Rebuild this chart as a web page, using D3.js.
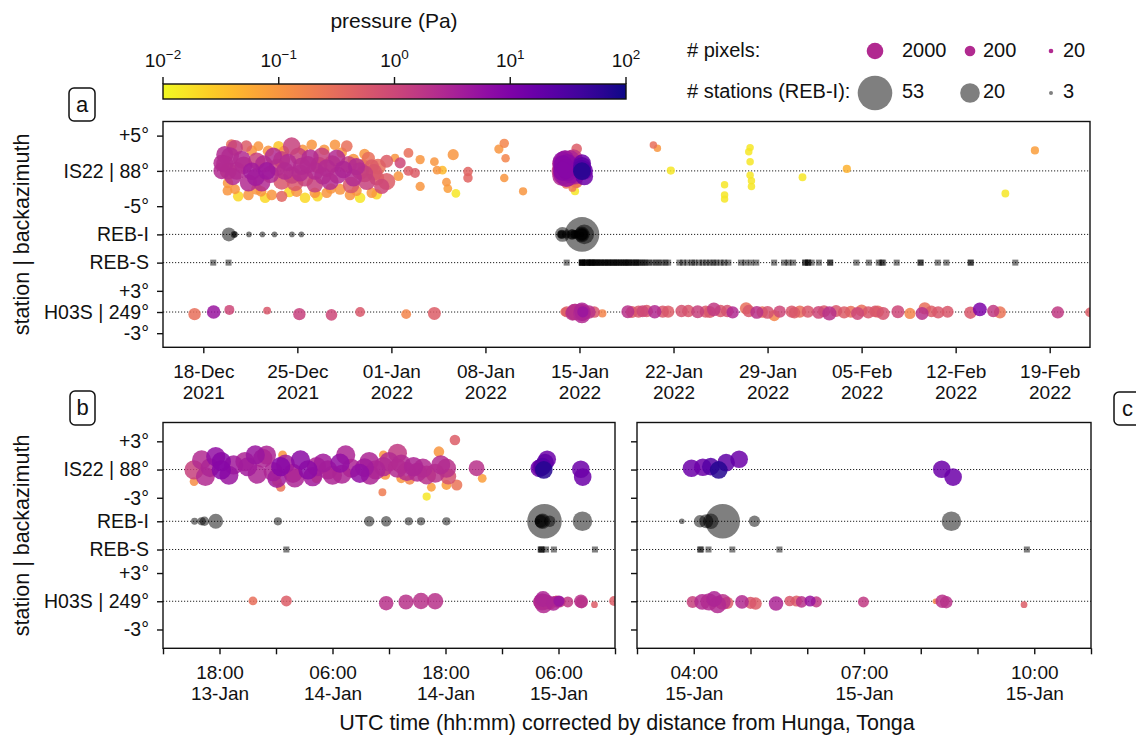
<!DOCTYPE html>
<html><head><meta charset="utf-8">
<script src="https://cdn.jsdelivr.net/npm/d3@7"></script>
<style>
body{margin:0;background:#fff;}
svg text{font-family:"Liberation Sans", Arial, Helvetica, sans-serif; fill:#111;}
</style></head><body>
<svg id="chart" width="1136" height="742" style="background:#fff"></svg>
<script>
// ---------------- DATA ----------------
// colorbar ticks (Pa) and legend values
const cbTicks = [0.01, 0.1, 1, 10, 100];
const cbExps = ["−2", "−1", "0", "1", "2"];
const pixelLegend = [2000, 200, 20];
const stationLegend = [53, 20, 3];
const legendPa = 2.5;

// panel a weekly ticks
const weekTicks = ["2021-12-18","2021-12-25","2022-01-01","2022-01-08","2022-01-15","2022-01-22","2022-01-29","2022-02-05","2022-02-12","2022-02-19"];
// panel b/c ticks: hours since 2022-01-13 00:00 UTC
const ticksB = [12,18,24,30,36,42,48,54,60];
const labelsB = [18,30,42,54];
const ticksC = [51,52,53,54,55,56,57,58,59];
const labelsC = [52,55,58];

// IS22 detections, long-term: [days since 2021-12-15, backazimuth offset (deg), pressure (Pa), pixels]
const is22Days = [
[4.6,2.3,2.5,2500],[5.0,2.1,2.5,3000],[5.36,3.26,1.2,1500],[5.86,1.6,2.5,3000],[5.49,0.0,2.5,3000],
[6.6,-0.05,4,3000],[6.36,-1.7,2.5,2500],[7.72,0.0,4.5,3000],[7.35,-1.7,2.5,2500],[6.98,1.4,1.2,2500],
[8.22,2.1,2.5,2500],[8.84,1.6,1.2,2500],[9.58,3.5,1.2,3000],[9.08,0.0,2.5,3000],[8.84,-1.5,0.6,2000],
[10.33,0.66,2.5,3000],[10.95,1.84,2.5,2500],[10.08,2.1,1.2,2500],[11.32,0.0,2.5,3000],[10.57,-1.0,1.2,2500],
[11.82,2.1,1.2,2500],[9.83,-1.7,0.6,2000],[11.3,-1.9,1.2,2000],[4.37,0.0,2.5,2000],[4.86,0.0,1.2,2500],
[4.37,1.1,2.5,2000],[4.6,1.0,2.5,2500],[5.2,-0.8,2.5,2500],[6.0,0.8,2.5,3000],[6.9,-0.9,4,3000],
[7.5,1.0,2.5,2500],[8.0,-0.5,2.5,2500],[8.5,0.5,1.2,2500],[9.3,1.2,2.5,2500],[9.6,-0.6,1.2,2500],
[10.2,-0.3,2.5,2500],[10.8,0.9,2.5,2500],[11.6,0.8,1.2,2500],[11.9,-0.7,2.5,2500],[12.6,1.0,1.2,2500],
[13.0,-0.6,2.5,2500],[13.8,0.9,1.2,2500],[14.4,0.6,2.5,2500],[14.0,-2.0,0.6,2000],[15.0,-0.4,1.2,2500],
[15.7,-0.2,0.6,2000],[16.0,0.6,0.3,1500],[12.19,0.4,2.5,3000],[12.93,1.8,2.5,2500],[13.43,0.2,3,3000],
[14.17,-1.0,2.5,2500],[15.17,-1.5,1.2,2500],[14.67,0.0,1.2,2500],[12.43,-1.5,2.5,2500],
[13.68,3.5,0.3,300],[12.8,3.7,0.1,200],[14.17,1.6,0.1,300],[14.9,0.9,0.1,300],[15.29,1.8,0.3,500],
[15.54,0.66,0.5,800],[15.9,-1.0,0.5,1200],[16.65,-1.5,0.5,2500],[16.28,-2.2,1.0,1200],[14.67,-3.8,0.015,200],
[13.92,-3.4,0.1,200],[13.18,-2.6,0.1,250],[12.19,-3.1,0.1,200],[15.54,-3.1,0.1,200],
[5.36,-2.6,0.1,150],[5.6,-3.6,0.02,200],[4.84,-1.7,0.1,200],[6.36,-3.4,0.1,200],[6.98,-2.6,0.1,250],
[7.6,-3.8,0.02,200],[8.09,-3.4,0.1,200],[8.84,-3.6,0.4,250],[9.95,-2.9,0.1,250],[10.57,-3.8,0.02,200],
[11.3,-3.1,0.1,200],[7.1,3.5,0.1,150],[8.6,3.5,0.03,200],[7.84,2.8,0.1,250],[11.07,3.7,0.1,200],
[5.1,3.7,0.3,250],[6.2,3.5,0.5,300],[4.8,-2.8,0.1,150],[6.6,2.9,0.1,200],[7.3,-2.9,0.1,200],
[9.0,2.8,0.1,200],[9.4,-3.0,0.02,200],[10.4,3.0,0.1,200],[11.5,-3.6,0.02,200],[12.0,3.0,0.1,200],
[12.5,-2.5,0.1,200],[13.3,2.6,0.1,200],[14.4,-2.8,0.1,200],[15.0,2.4,0.1,200],[15.9,-3.3,0.02,200],
[16.65,1.37,0.5,500],[17.65,1.13,1.0,250],[18.27,2.55,0.3,150],[18.27,0.0,0.5,150],[18.76,-0.3,0.5,150],
[19.14,1.6,0.1,120],[17.52,-0.75,0.1,150],[19.14,-2.2,0.1,120],[17.27,1.84,0.1,80],[20.2,1.3,0.1,100],
[20.4,0.1,0.1,100],[20.8,0.1,0.04,100],[21.6,2.3,0.1,250],[21.1,-1.6,0.1,100],[21.2,-2.5,0.08,100],
[21.8,-3.2,0.015,100],[22.7,-0.1,0.4,130],[22.7,-1.0,0.4,130],[25.0,3.1,0.1,120],[25.4,3.9,0.15,130],
[25.5,1.8,0.15,90],[25.4,-1.0,0.1,90],[26.8,-2.9,0.1,80],
[36.5,3.66,0.3,60],[36.8,3.2,0.1,60],[37.8,0.05,0.015,80],[41.8,-1.97,0.015,60],[41.8,-3.4,0.015,60],
[41.8,-4.0,0.015,60],[43.7,3.3,0.015,60],[43.6,2.7,0.015,60],[43.7,1.3,0.015,60],[43.7,-0.6,0.015,60],
[43.8,-1.4,0.015,60],[43.8,-2.2,0.015,60],[47.6,-0.9,0.015,70],[50.9,0.28,0.05,80],[62.7,-3.2,0.015,70],
[64.9,2.9,0.08,80]
];

// IS22 detections around the eruption: [hours since 2022-01-13 00:00 UTC, deg, Pa, pixels]
const is22Event = [
[15.3,-0.04,1.2,5500],[16.1,1.02,2.5,5500],[16.5,-0.75,2.5,5000],[17.6,1.37,6,5500],[18.2,0.84,8,5500],
[18.2,-0.04,8,5500],[19.5,0.49,4,5500],[20.7,0.84,3,5500],[21.8,1.55,5,5500],[22.6,1.2,3,5500],
[23.0,1.55,3,5000],[23.7,-0.22,3,5500],[24.5,0.31,8,5500],[24.1,-0.93,4,5500],[25.8,-0.4,3,5500],
[26.6,1.02,7,5500],[27.4,-0.04,7,5500],[27.9,-0.75,4,5500],[28.3,0.31,3,5500],[29.5,-0.04,3,5500],
[30.8,0.67,6,5500],[31.4,1.55,3,5500],[32.0,0.14,3,5000],[32.9,-0.4,6,5500],[33.9,0.84,3,5500],
[34.6,-0.04,3,5500],[35.4,0.31,2.5,5500],[36.0,0.84,2.5,5500],[36.9,1.73,1.5,5000],[36.9,0.14,2.5,5500],
[37.9,-0.22,2.5,5000],[38.6,0.31,3,5500],[39.6,0.14,2.5,5500],[40.0,-0.57,2,5000],[40.9,-0.4,2,5000],
[42.1,0.14,2,5500],[42.3,-0.75,0.7,1500],
[17.0,0.2,3,5000],[19.0,-0.6,5,5000],[21.0,0.3,4,5000],[22.0,-0.5,3,5000],[25.0,0.6,4,5000],
[26.0,-0.9,3,5000],[29.0,0.7,4,5000],[30.0,-0.6,3,5000],[31.0,-0.5,3,5000],[33.4,0.2,4,5000],
[34.0,-0.6,3,5000],[37.3,0.6,2.5,5000],[39.0,-0.3,2.5,5000],[41.5,0.5,2.5,5000],
[15.3,-1.28,0.12,100],[24.7,1.55,0.1,100],[24.1,-1.28,0.12,150],[24.5,-1.88,0.25,120],[28.3,-0.93,0.15,150],
[35.4,1.55,0.1,100],[35.6,-0.57,0.1,150],[37.3,-0.93,0.1,150],[38.2,-1.1,0.15,150],[41.3,1.9,0.1,200],
[43.0,3.14,0.5,200],[45.9,-0.93,0.08,100],[45.3,0.14,2,1500],[40.5,-1.88,0.08,100],[40.0,-2.87,0.015,80],
[35.3,-2.41,0.2,70],[42.1,-1.64,0.08,150],[43.2,-1.64,0.25,250],
[51.96,0.14,15,3000],[52.16,0.24,15,3000],[52.30,0.31,25,3000],[52.44,-0.04,70,3000],[52.57,0.73,20,3000],
[52.80,1.09,15,3000],[56.37,0.03,15,3000],[56.57,-0.8,15,3000]
];

// H03S detections, long-term: [days since 2021-12-15, deg, Pa, pixels]
const h03sDays = [
[2.35,-0.3,0.3,400],[3.77,0.0,5,650],[4.94,0.3,1.0,160],[7.75,0.2,0.6,70],[10.15,-0.3,1.2,400],
[12.54,-0.4,1.0,300],[14.67,0.0,0.6,150],[18.1,-0.3,0.15,150],[20.2,-0.2,0.5,500],
[31.7,0.0,2,600],[32.1,0.0,0.6,300],[32.7,-0.2,0.15,80],
[34.6,0.05,2,500],[34.9,0.0,0.5,350],[35.4,0.05,0.6,400],[35.7,0.1,1.0,350],[36.0,0.14,0.6,400],
[36.6,0.05,2.5,600],[37.2,0.05,0.6,400],[37.6,0.05,0.5,400],[38.6,0.14,0.7,400],[39.1,0.14,0.6,400],
[39.8,0.05,1.2,500],[40.4,0.05,0.6,400],[40.7,0.0,0.6,350],[41.0,0.38,1.5,650],[41.5,0.14,0.6,400],
[42.0,0.14,0.7,400],[42.4,-0.05,2.5,400],[43.4,0.52,0.3,400],[43.6,0.14,0.6,400],[44.2,-0.05,2,500],
[44.6,0.0,0.3,300],[45.0,-0.05,0.7,500],[45.5,-0.5,0.15,250],[45.9,0.05,1.0,400],[46.8,0.05,0.6,400],
[47.0,-0.1,0.5,300],[47.4,0.05,0.3,400],[48.0,0.05,0.6,400],[48.8,-0.05,1.0,500],[49.2,0.1,0.6,350],
[49.6,-0.2,2,800],[50.1,0.14,0.6,350],[50.7,-0.05,0.5,400],[51.2,0.05,0.3,350],[51.7,-0.2,1.0,500],
[52.0,0.2,0.3,350],[52.5,-0.05,0.6,400],[53.0,0.1,0.6,300],[53.2,0.05,0.35,400],[53.6,-0.2,0.7,500],
[54.7,0.05,1.0,500],[55.6,-0.2,0.15,250],[56.5,-0.2,2,500],[56.7,0.52,0.3,400],[57.2,0.1,0.5,300],
[57.7,-0.05,0.6,400],[58.4,0.05,0.6,350],[60.1,-0.1,0.6,400],[60.8,0.38,10,700],[61.8,0.14,1.5,400],
[62.3,-0.05,0.25,350],[66.6,-0.05,1.5,400],[69.0,-0.05,0.5,150]
];

// H03S detections around the eruption: [hours since 2022-01-13 00:00 UTC, deg, Pa, pixels]
const h03sEvent = [
[21.55,0.03,0.3,100],[25.1,0.03,0.5,230],[35.7,-0.2,2,900],[37.8,-0.07,2,1100],[39.4,0.03,2,1800],
[40.9,0.0,2,1800],[51.98,-0.07,1.2,350],[52.15,-0.07,2.5,1500],[52.27,-0.07,2.5,2500],[52.36,0.24,3,1500],
[52.42,-0.36,2.5,2500],[52.51,-0.07,2,1500],[52.59,-0.17,0.5,400],[52.85,-0.07,2.5,650],[53.0,-0.17,0.6,350],
[53.09,-0.24,0.5,400],[53.45,-0.24,3,900],[53.69,0.03,0.6,200],[53.81,0.03,0.5,250],[53.9,-0.07,2,300],
[54.05,0.03,5,250],[54.16,-0.07,1.5,250],[54.99,-0.07,1.5,230],[56.26,0.0,0.15,30],[56.38,0.0,2,650],
[56.45,-0.1,2,400],[57.82,-0.36,0.5,45],[59.9,0.03,0.5,150]
];

// REB-I events: [time, number of stations]
const rebIDays = [[4.9,12],[5.3,5],[5.35,4],[6.4,4],[7.4,4],[8.3,4],[9.6,4],[10.3,4]];
const rebIEvent = [[15.35,5],[16.1,6],[16.4,7],[17.6,13],[24.2,6],[33.9,8],[35.7,8],[38.1,6],[39.4,6],[42.1,6],
[51.79,4],[52.11,10],[52.22,12],[52.30,14],[52.51,53],[53.07,9],[56.54,20]];

// REB-S events: times
const rebSDays = [3.74,4.88,31.55,31.6,31.65,31.75,31.85,31.9,31.95,32.05,32.15,32.2,32.3,32.4,32.5,32.6,32.65,32.8,32.9,33.0,33.1,33.15,33.3,33.4,33.5,33.55,33.7,33.8,33.9,33.95,34.1,34.25,34.3,34.4,34.5,34.65,34.7,34.8,34.95,35.1,35.2,35.25,35.4,35.55,35.7,35.85,36.0,36.2,36.45,36.7,36.9,37.15,37.4,37.6,38.44,38.71,39.03,39.37,39.56,39.9,40.17,40.44,40.7,40.97,41.18,41.5,41.77,42.08,43.02,43.36,43.76,44.16,45.49,46.23,46.55,46.9,47.8,47.8,48.02,48.02,48.28,48.82,49.66,49.66,51.61,52.54,53.28,53.5,53.6,54.61,56.39,56.39,57.67,58.31,60.12,60.12,63.44];
const rebSEvent = [25.1,52.11,52.13,52.26,52.68,53.51,57.87];

// ---------------- CHART ----------------
const svg = d3.select("#chart");
const dayBase = Date.UTC(2021,11,15);
const evtBase = Date.UTC(2022,0,13);
const fromDay = t => new Date(dayBase + t*864e5);
const fromHour = h => new Date(evtBase + h*36e5);

const color = d3.scaleSequentialLog(t => d3.interpolatePlasma(1 - t)).domain([0.01, 100]);
const rPix = d3.scaleLog().domain([20, 2000]).range([2.3, 8.3]);
const rSta = d3.scalePow().exponent(0.45).domain([3, 53]).range([2, 17.3]);

const INK = "#111";
const evtData = {
  is22: is22Event.map(d => ({t: fromHour(d[0]), deg: d[1], pa: d[2], px: d[3]})),
  h03s: h03sEvent.map(d => ({t: fromHour(d[0]), deg: d[1], pa: d[2], px: d[3]})),
  rebI: rebIEvent.map(d => ({t: fromHour(d[0]), n: d[1]})),
  rebS: rebSEvent.map(fromHour)
};
const allData = {
  is22: is22Days.map(d => ({t: fromDay(d[0]), deg: d[1], pa: d[2], px: d[3]})).concat(evtData.is22),
  h03s: h03sDays.map(d => ({t: fromDay(d[0]), deg: d[1], pa: d[2], px: d[3]})).concat(evtData.h03s),
  rebI: rebIDays.map(d => ({t: fromDay(d[0]), n: d[1]})).concat(evtData.rebI),
  rebS: rebSDays.map(fromDay).concat(evtData.rebS)
};

const panels = [
  {id: "a", x0: 163, x1: 1090, y0: 121.5, y1: 347.3,
   dom: [new Date(Date.UTC(2021,11,15)), new Date(Date.UTC(2022,1,22))], yDom: [7, -25],
   rows: {IS22: 0, REBI: -9, REBS: -13, H03S: -20},
   yTicks: [[5,"+5°"],[0,"IS22 | 88°"],[-5,"-5°"],[-9,"REB-I"],[-13,"REB-S"],[-17,"+3°"],[-20,"H03S | 249°"],[-23,"-3°"]],
   xTicks: weekTicks.map(s => new Date(s + "T00:00:00Z")),
   xLabel: d => d3.utcFormat("%d-%b")(d) + "|" + d3.utcFormat("%Y")(d),
   data: allData, yLabels: true, evtScale: 1},
  {id: "b", x0: 163, x1: 615, y0: 422.5, y1: 648.3,
   dom: [fromHour(12), fromHour(60)], yDom: [5, -19],
   rows: {IS22: 0, REBI: -5.5, REBS: -8.5, H03S: -14},
   yTicks: [[3,"+3°"],[0,"IS22 | 88°"],[-3,"-3°"],[-5.5,"REB-I"],[-8.5,"REB-S"],[-11,"+3°"],[-14,"H03S | 249°"],[-17,"-3°"]],
   xTicks: ticksB.map(fromHour),
   xLabel: d => labelsB.some(h => +fromHour(h) === +d) ? d3.utcFormat("%H:%M")(d) + "|" + d3.utcFormat("%d-%b")(d) : "",
   data: evtData, yLabels: true},
  {id: "c", x0: 637, x1: 1091, y0: 422.5, y1: 648.3,
   dom: [fromHour(51), fromHour(59)], yDom: [5, -19],
   rows: {IS22: 0, REBI: -5.5, REBS: -8.5, H03S: -14},
   yTicks: [[3,"+3°"],[0,"IS22 | 88°"],[-3,"-3°"],[-5.5,"REB-I"],[-8.5,"REB-S"],[-11,"+3°"],[-14,"H03S | 249°"],[-17,"-3°"]],
   xTicks: ticksC.map(fromHour),
   xLabel: d => labelsC.some(h => +fromHour(h) === +d) ? d3.utcFormat("%H:%M")(d) + "|" + d3.utcFormat("%d-%b")(d) : "",
   data: evtData, yLabels: false}
];

panels.forEach(p => {
  const x = d3.scaleUtc().domain(p.dom).range([p.x0, p.x1]);
  const y = d3.scaleLinear().domain(p.yDom).range([p.y0, p.y1]);
  const g = svg.append("g");
  const clipId = "clip-" + p.id;
  svg.append("clipPath").attr("id", clipId).append("rect")
    .attr("x", p.x0).attr("y", p.y0).attr("width", p.x1 - p.x0).attr("height", p.y1 - p.y0);

  // dotted row lines
  g.append("g").selectAll("line").data([p.rows.IS22, p.rows.REBI, p.rows.REBS, p.rows.H03S]).join("line")
    .attr("x1", p.x0).attr("x2", p.x1).attr("y1", d => y(d)).attr("y2", d => y(d))
    .attr("stroke", "#222").attr("stroke-width", 1).attr("stroke-dasharray", "1.2,1.8");

  const m = g.append("g").attr("clip-path", `url(#${clipId})`);
  // REB-S squares
  m.append("g").selectAll("rect").data(p.data.rebS).join("rect")
    .attr("x", d => x(d) - 3).attr("y", y(p.rows.REBS) - 3).attr("width", 6).attr("height", 6)
    .attr("fill", "#000").attr("fill-opacity", 0.5);
  // REB-I circles
  m.append("g").selectAll("circle").data(p.data.rebI).join("circle")
    .attr("cx", d => x(d.t)).attr("cy", y(p.rows.REBI)).attr("r", d => rSta(d.n))
    .attr("fill", "#000").attr("fill-opacity", 0.5);
  // pixel detections
  const pts = p.data.is22.map(d => ({t: d.t, v: p.rows.IS22 + d.deg, pa: d.pa, px: d.px}))
    .concat(p.data.h03s.map(d => ({t: d.t, v: p.rows.H03S + d.deg, pa: d.pa, px: d.px})))
    .sort((a, b) => a.pa - b.pa);
  m.append("g").selectAll("circle").data(pts).join("circle")
    .attr("cx", d => x(d.t)).attr("cy", d => y(d.v)).attr("r", d => rPix(d.px))
    .attr("fill", d => color(d.pa)).attr("fill-opacity", 0.85);

  // frame
  g.append("rect").attr("x", p.x0).attr("y", p.y0).attr("width", p.x1 - p.x0).attr("height", p.y1 - p.y0)
    .attr("fill", "none").attr("stroke", INK).attr("stroke-width", 1.4);

  // y axis
  const ya = d3.axisLeft(y).tickValues(p.yTicks.map(d => d[0])).tickSize(6).tickPadding(8)
    .tickFormat(v => p.yLabels ? p.yTicks.find(d => d[0] === v)[1] : "");
  const yg = g.append("g").attr("transform", `translate(${p.x0},0)`).call(ya);
  yg.select(".domain").remove();
  yg.selectAll(".tick line").attr("stroke", INK).attr("stroke-width", 1.4);
  yg.selectAll(".tick text").attr("font-size", 19.5).attr("font-family", null).attr("fill", INK);

  // x axis
  const xa = d3.axisBottom(x).tickValues(p.xTicks).tickSize(6).tickPadding(11).tickFormat(p.xLabel);
  const xg = g.append("g").attr("transform", `translate(0,${p.y1})`).call(xa);
  xg.select(".domain").remove();
  xg.selectAll(".tick line").attr("stroke", INK).attr("stroke-width", 1.4);
  xg.selectAll(".tick text").attr("font-size", 19).attr("font-family", null).attr("fill", INK)
    .each(function() {
      const s = d3.select(this).text();
      const t = d3.select(this).text(null);
      if (!s) return;
      const parts = s.split("|");
      t.append("tspan").attr("x", 0).text(parts[0]);
      t.append("tspan").attr("x", 0).attr("dy", "1.1em").text(parts[1]);
    });
});

// panel letters
[["a", 69, 88, 26, 33], ["b", 70, 391, 25, 34], ["c", 1114, 392, 27, 33]].forEach(([l, bx, by, bw, bh]) => {
  svg.append("rect").attr("x", bx).attr("y", by).attr("width", bw).attr("height", bh).attr("rx", 5)
    .attr("fill", "#fff").attr("stroke", INK).attr("stroke-width", 1.5);
  svg.append("text").attr("x", bx + bw / 2).attr("y", by + bh / 2 + 7).attr("text-anchor", "middle")
    .attr("font-size", 22).text(l);
});

// axis titles
[[234.4], [535.4]].forEach(([cy]) => {
  svg.append("text").attr("transform", `translate(29,${cy}) rotate(-90)`).attr("text-anchor", "middle")
    .attr("font-size", 21.5).text("station | backazimuth");
});
svg.append("text").attr("x", 627).attr("y", 730).attr("text-anchor", "middle").attr("font-size", 21.5)
  .text("UTC time (hh:mm) corrected by distance from Hunga, Tonga");

// colorbar
const cbx = d3.scaleLog().domain([0.01, 100]).range([163, 626]);
const defs = svg.append("defs");
const grad = defs.append("linearGradient").attr("id", "cbgrad").attr("x1", "0%").attr("x2", "100%");
d3.range(0, 1.0001, 0.05).forEach(f => {
  grad.append("stop").attr("offset", (f * 100) + "%").attr("stop-color", d3.interpolatePlasma(1 - f));
});
svg.append("rect").attr("x", 163).attr("y", 84).attr("width", 463).attr("height", 15)
  .attr("fill", "url(#cbgrad)").attr("stroke", INK).attr("stroke-width", 1.4);
cbTicks.forEach((v, i) => {
  svg.append("line").attr("x1", cbx(v)).attr("x2", cbx(v)).attr("y1", 77).attr("y2", 84)
    .attr("stroke", INK).attr("stroke-width", 1.4);
  const t = svg.append("text").attr("x", cbx(v)).attr("y", 67).attr("text-anchor", "middle").attr("font-size", 19);
  t.append("tspan").text("10");
  t.append("tspan").attr("dy", -8).attr("font-size", 13.5).text(cbExps[i]);
});
svg.append("text").attr("x", 394).attr("y", 28).attr("text-anchor", "middle").attr("font-size", 21).text("pressure (Pa)");

// size legends
svg.append("text").attr("x", 687).attr("y", 57).attr("font-size", 20).text("# pixels:");
svg.append("text").attr("x", 687).attr("y", 98).attr("font-size", 20).text("# stations (REB-I):");
const lx = [875, 970, 1051], tx = [902, 983, 1063];
pixelLegend.forEach((v, i) => {
  svg.append("circle").attr("cx", lx[i]).attr("cy", 51).attr("r", rPix(v)).attr("fill", color(legendPa));
  svg.append("text").attr("x", tx[i]).attr("y", 57).attr("font-size", 20).text(v);
});
stationLegend.forEach((v, i) => {
  svg.append("circle").attr("cx", lx[i]).attr("cy", 93).attr("r", rSta(v)).attr("fill", "#000").attr("fill-opacity", 0.5);
  svg.append("text").attr("x", tx[i]).attr("y", 98).attr("font-size", 20).text(v);
});
</script></body></html>
